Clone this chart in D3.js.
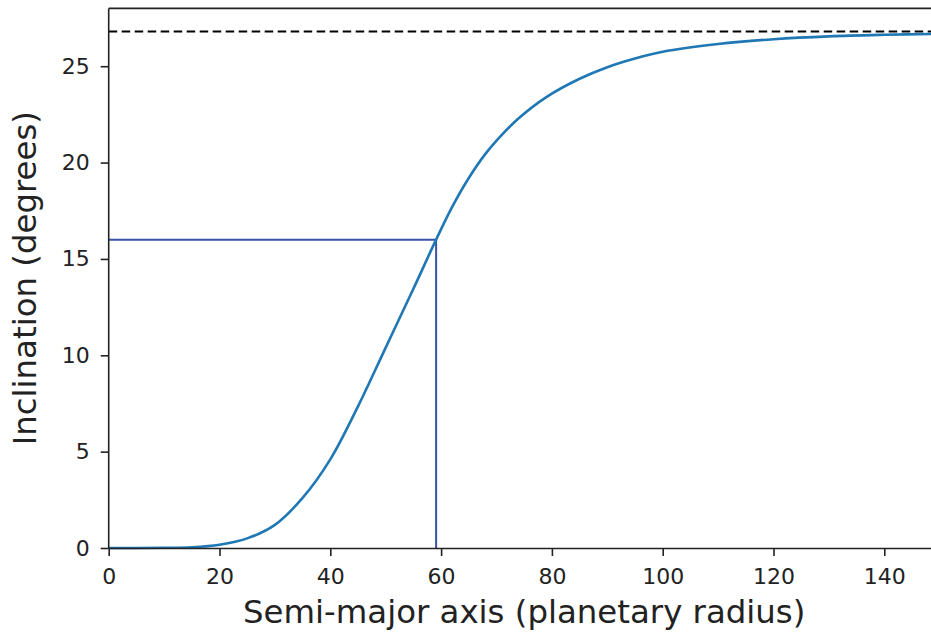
<!DOCTYPE html>
<html>
<head>
<meta charset="utf-8">
<script src="https://cdn.jsdelivr.net/npm/d3@7"></script>
<style>
body { margin: 0; background: #fff; }
svg { display: block; }
.tick text { font-family: "DejaVu Sans", sans-serif; font-size: 22px; fill: #222; }
</style>
</head>
<body>
<svg width="931" height="633"></svg>
<script>
// values
var semiMajor = [0, 5, 10, 15, 20, 25, 30, 35, 40, 45, 50, 55, 59.1, 62, 65, 68, 71, 74, 79, 85, 90, 95, 100, 110, 120, 130, 140, 150];
var inclination = [0, 0.002, 0.01, 0.04, 0.17, 0.5, 1.2, 2.6, 4.6, 7.35, 10.4, 13.45, 16.0, 17.7, 19.2, 20.45, 21.45, 22.3, 23.4, 24.35, 24.95, 25.4, 25.75, 26.15, 26.4, 26.55, 26.63, 26.68];
var xTicks = [0, 20, 40, 60, 80, 100, 120, 140];
var yTicks = [0, 5, 10, 15, 20, 25];
var asymptote = 26.8;
var marker = {a: 59.1, inc: 16.0};

var svg = d3.select("svg"),
    width = +svg.attr("width"),
    height = +svg.attr("height");

var x = d3.scaleLinear().domain([0, 150]).range([108.7, 939.7]);
var y = d3.scaleLinear().domain([0, 28]).range([548, 8.4]);

var points = semiMajor.map(function(d, i) { return {a: d, inc: inclination[i]}; });

// marker lines
svg.append("line")
    .attr("x1", x(0)).attr("x2", x(marker.a))
    .attr("y1", y(marker.inc)).attr("y2", y(marker.inc))
    .attr("stroke", "#3a52a3").attr("stroke-width", 2);
svg.append("line")
    .attr("x1", x(marker.a)).attr("x2", x(marker.a))
    .attr("y1", y(0)).attr("y2", y(marker.inc))
    .attr("stroke", "#3a52a3").attr("stroke-width", 2);

// asymptote
svg.append("line")
    .attr("x1", x(0)).attr("x2", x(150))
    .attr("y1", y(asymptote)).attr("y2", y(asymptote))
    .attr("stroke", "#000").attr("stroke-width", 2)
    .attr("stroke-dasharray", "8.5,4.5");

var line = d3.line()
    .x(function(d) { return x(d.a); })
    .y(function(d) { return y(d.inc); })
    .curve(d3.curveCatmullRom.alpha(0.5));

svg.append("path")
    .datum(points)
    .attr("d", line)
    .attr("fill", "none")
    .attr("stroke", "#1f77b4")
    .attr("stroke-width", 2.6);

// top spine
svg.append("line")
    .attr("x1", x(0)).attr("x2", x(150))
    .attr("y1", y(28)).attr("y2", y(28))
    .attr("stroke", "#222").attr("stroke-width", 1.6);

var xAxis = svg.append("g")
    .attr("transform", "translate(0," + y(0) + ")")
    .call(d3.axisBottom(x).tickValues(xTicks).tickSize(8).tickPadding(12).tickSizeOuter(0));
var yAxis = svg.append("g")
    .attr("transform", "translate(" + x(0) + ",0)")
    .call(d3.axisLeft(y).tickValues(yTicks).tickSize(8).tickPadding(11).tickSizeOuter(0));

[xAxis, yAxis].forEach(function(g) {
    g.select(".domain").attr("stroke", "#222").attr("stroke-width", 1.6);
    g.selectAll(".tick line").attr("stroke", "#222").attr("stroke-width", 1.6);
    g.attr("font-family", null).attr("font-size", null);
});
yAxis.select(".domain").attr("d", "M0," + y(0) + "V" + y(28));

svg.append("text")
    .attr("x", (x(0) + x(150)) / 2)
    .attr("y", 623)
    .attr("text-anchor", "middle")
    .style("font-family", "DejaVu Sans, sans-serif")
    .style("font-size", "32.4px")
    .style("fill", "#222")
    .text("Semi-major axis (planetary radius)");

svg.append("text")
    .attr("transform", "translate(36," + (y(0) + y(28)) / 2 + ") rotate(-90)")
    .attr("text-anchor", "middle")
    .style("font-family", "DejaVu Sans, sans-serif")
    .style("font-size", "32.4px")
    .style("fill", "#222")
    .text("Inclination (degrees)");
</script>
</body>
</html>
